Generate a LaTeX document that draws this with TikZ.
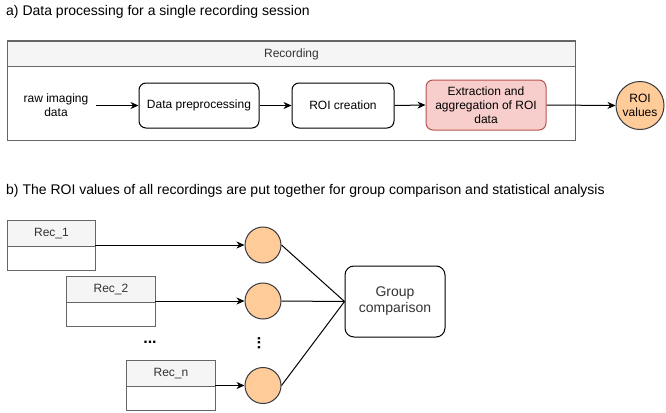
\documentclass[tikz,border=0pt]{standalone}
\usepackage{fontspec}
\setmainfont{Liberation Sans}
\usetikzlibrary{arrows.meta}
\definecolor{hdr}{HTML}{F5F5F5}
\definecolor{hdrline}{HTML}{666666}
\definecolor{txtgrey}{HTML}{333333}
\definecolor{redfill}{HTML}{F8CECC}
\definecolor{redline}{HTML}{B85450}
\definecolor{orfill}{HTML}{FFCC99}
\definecolor{orline}{HTML}{36393D}
\begin{document}
\begin{tikzpicture}[x=1pt,y=-1pt,
  every node/.style={font=\fontsize{12}{14}\selectfont, align=center, inner sep=0pt},
  bigtext/.style={font=\fontsize{14}{16}\selectfont},
  proc/.style={draw=black, line width=1pt, rounded corners=7pt, fill=white},
  lane/.style={draw=hdrline, line width=1pt},
  hdrbox/.style={draw=hdrline, fill=hdr, line width=1pt, text=txtgrey},
  roi/.style={circle, draw=orline, fill=orfill, line width=1pt},
  arr/.style={-{Stealth[length=8pt,width=7pt,inset=2.5pt]}, line width=1pt},
  conn/.style={line width=1pt}]
\useasboundingbox (0,0) rectangle (666,412);

% a) title
\node[bigtext, anchor=west] (ta) at (6,12) {a) Data processing for a single recording session};

% Recording container
\draw[lane, fill=white] (7,41) rectangle (575,140);
\node[hdrbox, minimum width=568pt, minimum height=25pt, anchor=north west] (rech) at (7,41) {Recording};

\node (raw) at (56,105) {raw imaging\\data};
\node[proc, minimum width=120pt, minimum height=45pt] (pre) at (199,105.5) {Data preprocessing};
\node[proc, minimum width=102pt, minimum height=45pt] (roic) at (343,105.5) {ROI creation};
\node[proc, draw=redline, fill=redfill, minimum width=120pt, minimum height=50pt] (ext) at (486,105) {Extraction and\\aggregation of ROI\\data};
\node[roi, minimum size=48pt] (rv) at (640,105.5) {ROI\\values};

\coordinate (rawout) at (96,105.5);
\draw[arr] (rawout) -- (pre.west);
\draw[arr] (pre.east) -- (roic.west);
\draw[arr] (roic.east) -- (ext.west);
\draw[arr] (ext.east) -- (rv.west);

% b) title
\node[bigtext, anchor=west] (tb) at (6,191) {b) The ROI values of all recordings are put together for group comparison and statistical analysis};

% Rec boxes
\draw[lane, fill=white] (7,220) rectangle (95,270);
\node[hdrbox, minimum width=88pt, minimum height=26pt, anchor=north west] (r1) at (7,220) {Rec\_1};
\draw[lane, fill=white] (66,276) rectangle (155,326);
\node[hdrbox, minimum width=89pt, minimum height=26pt, anchor=north west] (r2) at (66,276) {Rec\_2};
\draw[lane, fill=white] (126,360) rectangle (215,410);
\node[hdrbox, minimum width=89pt, minimum height=26pt, anchor=north west] (rn) at (126,360) {Rec\_n};

\node[font=\fontsize{16}{18}\selectfont\bfseries] (hdots) at (150,342) {...};
\node[font=\fontsize{16}{18}\selectfont\bfseries, rotate=-90] (vdots) at (259,343) {...};

% circles
\node[roi, minimum size=36pt] (c1) at (263,245) {};
\node[roi, minimum size=36pt] (c2) at (263,301) {};
\node[roi, minimum size=36pt] (c3) at (263,385.5) {};

\coordinate (o1) at (95,245);
\coordinate (o2) at (155,301);
\coordinate (o3) at (215,385.5);
\draw[arr] (o1) -- (c1.west);
\draw[arr] (o2) -- (c2.west);
\draw[arr] (o3) -- (c3.west);

% group comparison
\node[proc, bigtext, minimum width=100pt, minimum height=71pt, rounded corners=9pt, text=txtgrey] (gc) at (395,301.5) {Group\\comparison};
\draw[conn] (c1.east) -- (gc.west);
\draw[conn] (c2.east) -- (gc.west);
\draw[conn] (c3.east) -- (gc.west);
\end{tikzpicture}
\end{document}
